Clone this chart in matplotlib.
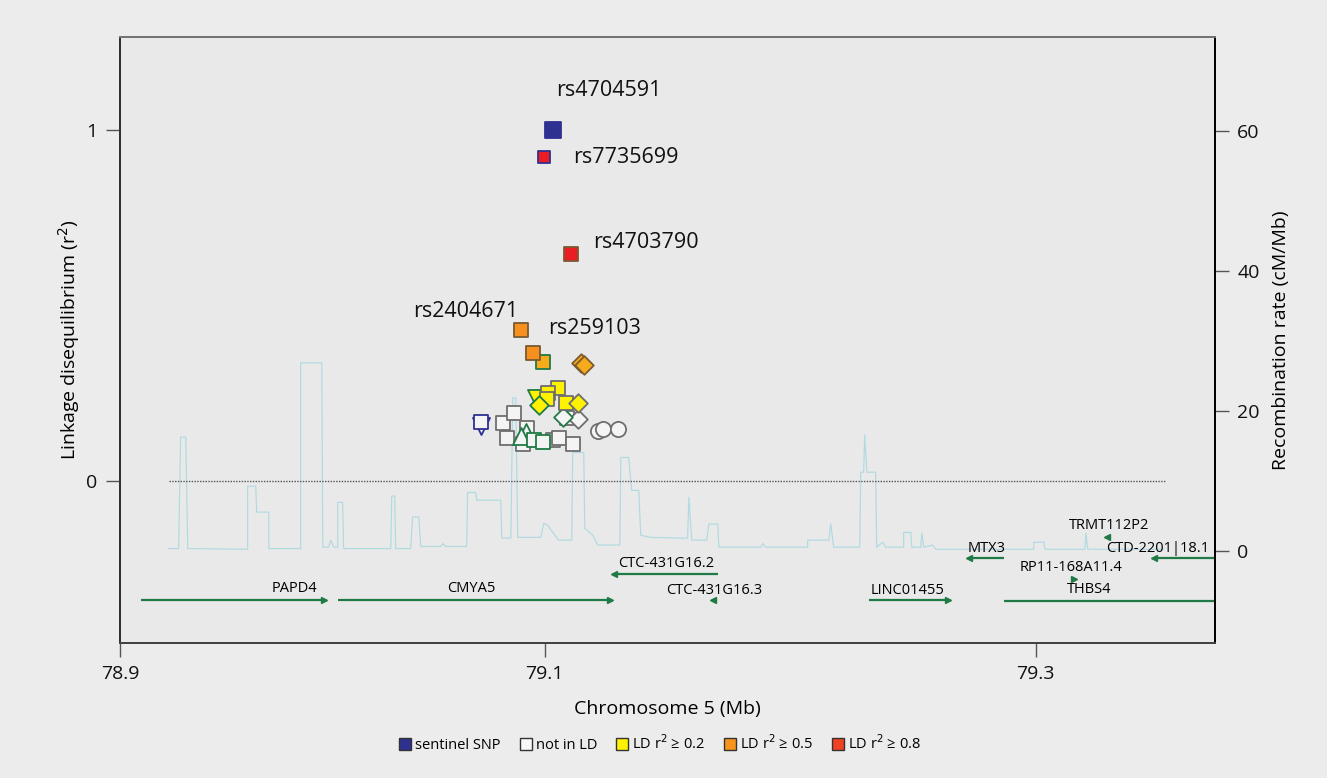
import numpy as np
import matplotlib
matplotlib.use('Agg')
import matplotlib.pyplot as plt
from matplotlib.lines import Line2D

plt.rcParams['font.family'] = ['Open Sans', 'DejaVu Sans']

# SNPs: position (Mb), r2, LD colour class, marker shape, edge class
snp_pos = [79.0829, 79.0874, 79.0845, 79.0927, 79.0910, 79.1033, 79.1057, 79.1114, 79.1090,
           79.1134, 79.1216, 79.1236, 79.1297,
           79.0923, 79.0902, 79.0955, 79.0992, 79.1073,
           79.0739, 79.0739,
           79.0963, 79.1053, 79.1012, 79.1008, 79.0976, 79.1086, 79.1134,
           79.1147, 79.1159, 79.0992,
           79.0951, 79.0902,
           79.1106, 79.0996,
           79.1033]
snp_r2 = [0.165, 0.194, 0.123, 0.151, 0.105, 0.117, 0.123, 0.105, 0.179,
          0.177, 0.142, 0.148, 0.148,
          0.140, 0.128, 0.117, 0.111, 0.182,
          0.157, 0.168,
          0.236, 0.265, 0.251, 0.234, 0.217, 0.222, 0.222,
          0.336, 0.330, 0.339,
          0.365, 0.430,
          0.647, 0.923,
          1.000]
snp_ld = ['none'] * 13 + ['none'] * 5 + ['none'] * 2 + ['low'] * 7 + ['amber'] * 3 + ['mid'] * 2 + ['high'] * 2 + ['sentinel']
snp_shape = ['s'] * 9 + ['D', 'o', 'o', 'o'] + ['^', '^', 's', 's', 'D'] + ['v', 's'] + \
            ['v', 's', 's', 's', 'D', 's', 'D'] + ['D', 'D', 's'] + ['s', 's'] + ['s', 's'] + ['s']
snp_edge = ['gray'] * 13 + ['green'] * 5 + ['blue'] * 2 + \
           ['green', 'gray', 'gray', 'gray', 'green', 'gray', 'gray'] + ['dark', 'dark', 'green'] + \
           ['dark', 'dark'] + ['dark', 'blue'] + ['navy']

snp_names = ['rs4704591', 'rs7735699', 'rs4703790', 'rs2404671', 'rs259103']
name_pos = [79.1045, 79.1114, 79.1196, 79.0462, 79.1012]
name_r2 = [1.114, 0.923, 0.681, 0.484, 0.436]

# recombination rate trace (Mb, cM/Mb)
rec_pos = [78.9468, 78.9509, 78.9517, 78.9538, 78.9546, 78.9790, 78.9790, 78.9823, 78.9827, 78.9876,
           78.9876, 79.0006, 79.0006, 79.0092, 79.0096, 79.0120, 79.0128, 79.0141, 79.0157, 79.0157,
           79.0177, 79.0181, 79.0373, 79.0377, 79.0389, 79.0393, 79.0454, 79.0462, 79.0487, 79.0495,
           79.0576, 79.0585, 79.0597, 79.0682, 79.0686, 79.0719, 79.0723, 79.0821, 79.0825, 79.0862,
           79.0870, 79.0882, 79.0890, 79.0984, 79.0996, 79.1012, 79.1057, 79.1110, 79.1114, 79.1159,
           79.1163, 79.1196, 79.1216, 79.1306, 79.1310, 79.1342, 79.1354, 79.1383, 79.1391, 79.1432,
           79.1554, 79.1582, 79.1587, 79.1599, 79.1660, 79.1668, 79.1705, 79.1709, 79.1880, 79.1888,
           79.1900, 79.2071, 79.2071, 79.2157, 79.2165, 79.2177, 79.2283, 79.2287, 79.2299, 79.2303,
           79.2312, 79.2348, 79.2352, 79.2377, 79.2389, 79.2462, 79.2462, 79.2491, 79.2495, 79.2532,
           79.2536, 79.2544, 79.2580, 79.2593, 79.2992, 79.2992, 79.3033, 79.3037, 79.3200, 79.3204,
           79.3212, 79.3521]
rec_rate = [0.4, 0.4, 16.3, 16.3, 0.4, 0.3, 9.3, 9.3, 5.6, 5.6,
            0.4, 0.4, 26.9, 26.9, 0.6, 0.6, 1.6, 0.6, 0.6, 7.0,
            7.0, 0.4, 0.4, 7.9, 7.9, 0.4, 0.4, 4.9, 4.9, 0.7,
            0.7, 1.1, 0.7, 0.7, 8.4, 8.4, 7.3, 7.3, 1.9, 1.9,
            21.9, 21.9, 2.0, 2.0, 4.0, 3.7, 1.6, 1.6, 14.1, 14.1,
            3.3, 2.3, 0.9, 0.9, 13.4, 13.4, 8.7, 8.7, 2.3, 2.0,
            1.9, 1.9, 7.7, 1.6, 1.6, 3.9, 3.9, 0.6, 0.6, 1.1,
            0.6, 0.6, 1.6, 1.6, 3.9, 0.6, 0.6, 11.3, 11.3, 16.6,
            11.3, 11.3, 0.6, 1.3, 0.6, 0.6, 2.7, 2.7, 0.6, 0.6,
            2.6, 0.6, 0.9, 0.3, 0.3, 1.3, 1.3, 0.3, 0.3, 2.6,
            0.3, 0.3]

# genes: name, start, end, strand, track y, label x, label y
gene_names = ['PAPD4', 'CMYA5', 'CTC-431G16.2', 'CTC-431G16.3', 'LINC01455', 'MTX3',
              'TRMT112P2', 'CTD-2201|18.1', 'RP11-168A11.4', 'THBS4']
gene_start = [78.9354, 79.0157, 79.1281, 79.1684, 79.2320, 79.2727, 79.3290, 79.3481, 79.3148, 79.2870]
gene_end = [79.0100, 79.1265, 79.1705, 79.1690, 79.2642, 79.2870, 79.3296, 79.4000, 79.3154, 79.4500]
gene_strand = ['+', '+', '-', '-', '+', '-', '-', '-', '+', '+']
gene_y = [-0.339, -0.339, -0.265, -0.339, -0.339, -0.219, -0.160, -0.219, -0.279, -0.342]
label_x = [78.9982, 79.0703, 79.1493, 79.1692, 79.2479, 79.2800, 79.3297, 79.3285, 79.3143, 79.3216]
label_y = [-0.305, -0.305, -0.234, -0.311, -0.311, -0.191, -0.128, -0.191, -0.245, -0.308]
label_ha = ['center'] * 7 + ['left', 'center', 'center']

xticks = [78.927, 79.1, 79.3]
xtick_labels = ['78.9', '79.1', '79.3']

ld_colors = {'none': '#f4f4f4', 'low': '#fff200', 'amber': '#f6aa1c', 'mid': '#f7901e',
             'high': '#ec1c24', 'sentinel': '#2e3192'}
edge_colors = {'gray': '#6e6e6e', 'green': '#1f7a45', 'blue': '#2e3192', 'dark': '#7a5a30',
               'navy': '#2e3192'}
shape_size = {'s': 105, 'D': 90, 'o': 120, '^': 150, 'v': 150}

fig = plt.figure(figsize=(13.27, 7.78), dpi=100, facecolor='#ececec')
ax = fig.add_axes([0.0904, 0.1735, 0.8252, 0.7789])
ax2 = ax.twinx()
ax.set_zorder(ax2.get_zorder() + 1)
ax.patch.set_visible(False)
ax2.patch.set_visible(True)
ax2.patch.set_facecolor('#e9e9e9')

ax2.plot(rec_pos, rec_rate, color='#b0dae1', lw=0.85)
ax2.set_ylim(-13.08, 73.4)
ax2.set_yticks([0, 20, 40, 60])

ax.hlines(0, 78.9468, 79.3529, colors='#555555', linestyles=(0, (1, 1)), lw=1)

for x, y, ld, sh, ed in zip(snp_pos, snp_r2, snp_ld, snp_shape, snp_edge):
    size = shape_size[sh]
    if ld == 'sentinel':
        size = 140
    if ed == 'blue' and ld == 'high':
        size = 80
    ax.scatter(x, y, s=size, marker=sh, facecolor=ld_colors[ld], edgecolor=edge_colors[ed],
               linewidth=1.3, zorder=3)

for name, x, y in zip(snp_names, name_pos, name_r2):
    ax.text(x, y, name, fontsize=15.5, ha='left', va='center', color='#111111')

green = '#1f7a45'
for i, name in enumerate(gene_names):
    ax.plot([gene_start[i], gene_end[i]], [gene_y[i], gene_y[i]], color=green, lw=1.6,
            solid_capstyle='butt')
    if gene_strand[i] == '+':
        ax.plot(gene_end[i], gene_y[i], marker='>', color=green, ms=4)
    else:
        ax.plot(gene_start[i], gene_y[i], marker='<', color=green, ms=4)
    ax.text(label_x[i], label_y[i], name, fontsize=10.5, ha=label_ha[i], va='center', color='#000000')

ax.set_xlim(78.927, 79.373)
ax.set_ylim(-0.4615, 1.265)
ax.set_yticks([0, 1])
ax.set_yticklabels(['0', '1'])
ax.set_xticks(xticks)
ax.set_xticklabels(xtick_labels)

for a in (ax, ax2):
    a.tick_params(direction='out', length=10, width=1, colors='#555555', labelsize=14,
                  labelcolor='#111111', pad=6)
    for s in a.spines.values():
        s.set_linewidth(1.4)
ax.spines['left'].set_color('#333333')
ax.spines['bottom'].set_color('#444444')
ax.spines['top'].set_color('#777777')
ax2.spines['right'].set_color('#555555')

ax.set_ylabel('Linkage disequilibrium (r$^2$)', fontsize=14, labelpad=3)
ax2.set_ylabel('Recombination rate (cM/Mb)', fontsize=14, labelpad=9)
ax.set_xlabel('Chromosome 5 (Mb)', fontsize=14, labelpad=12)

legend_labels = ['sentinel SNP', 'not in LD', 'LD r$^2$ ≥ 0.2', 'LD r$^2$ ≥ 0.5', 'LD r$^2$ ≥ 0.8']
legend_colors = ['#2e3192', '#f8f8f8', '#fff200', '#f7941d', '#ef4123']
handles = [Line2D([], [], marker='s', ls='none', ms=9, markerfacecolor=c, markeredgecolor='#333333',
                  markeredgewidth=1) for c in legend_colors]
fig.legend(handles, legend_labels, loc='center', bbox_to_anchor=(0.497, 0.044), ncol=5,
           frameon=False, fontsize=10.5, handletextpad=0.2, columnspacing=1.2, handlelength=1)

fig.savefig('out.png', dpi=100, facecolor=fig.get_facecolor())
